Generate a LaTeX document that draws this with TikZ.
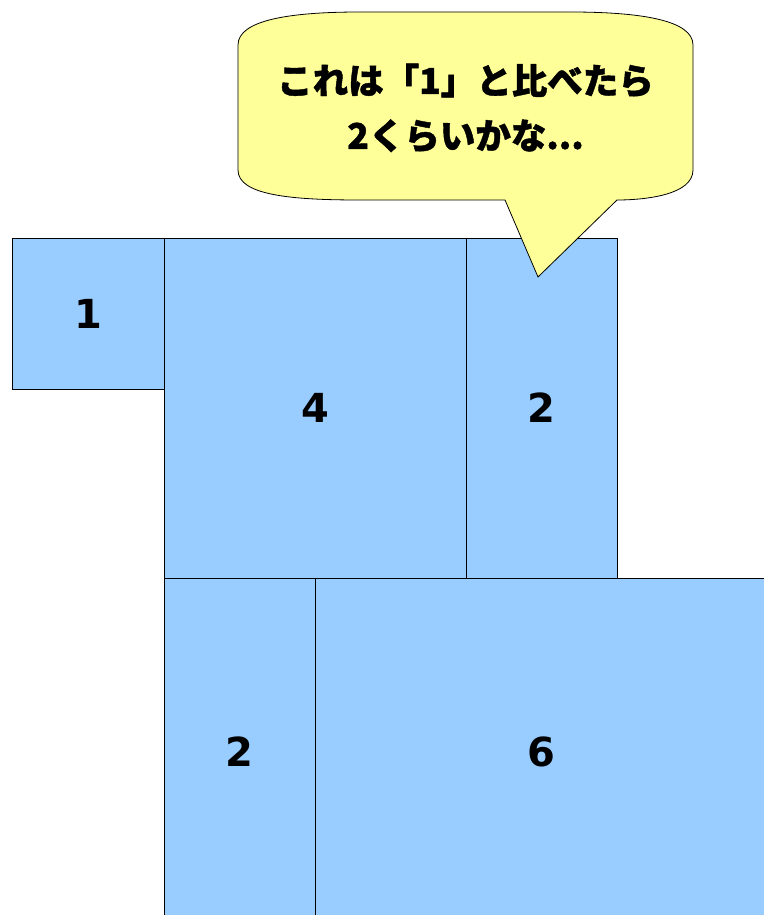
\documentclass[tikz,border=0pt]{standalone}
\usepackage{fontspec}
\setmainfont{DejaVu Sans}
\newfontfamily\jpfont{Noto Sans CJK JP}[BoldFeatures={FakeBold=1.2}]
\usepackage{xcolor}
\usetikzlibrary{positioning}
\definecolor{cellblue}{HTML}{99CCFF}
\definecolor{bubbleyellow}{HTML}{FFFF99}

\begin{document}
\begin{tikzpicture}[
  x=1pt,y=-1pt,
  cell/.style={draw,line width=0.8pt,fill=cellblue,inner sep=0pt,outer sep=0pt,
    font=\fontsize{40}{40}\selectfont\bfseries},
  bubble/.style={draw,line width=0.8pt,fill=bubbleyellow},
  remark/.style={align=center,font=\jpfont\fontsize{35.5}{55}\selectfont\bfseries}
]
  \useasboundingbox (0,0) rectangle (763,915);
  \node[cell,minimum width=152pt,minimum height=151pt] (one) at (88,313.5) {1};
  \node[cell,minimum width=302pt,minimum height=340pt] (four) at (315,408) {4};
  \node[cell,minimum width=151pt,minimum height=340pt] (twotop) at (541.5,408) {2};
  \node[cell,minimum width=151pt,minimum height=348pt] (twobot) at (239.5,752) {2};
  \node[cell,minimum width=452pt,minimum height=348pt] (six) at (541,752) {6};
  % speech bubble
  \draw[bubble] (238,45) .. controls (238,20) and (290,12) .. (360,12) -- (570,12)
    .. controls (640,12) and (693,20) .. (693,45) -- (693,170)
    .. controls (693,195) and (645,200) .. (617,200) -- (538,277) -- (505,200) -- (360,200)
    .. controls (290,200) and (238,195) .. (238,170) -- cycle;
  \node[remark] (talk) at (465.5,108) {これは「1」と比べたら\\2くらいかな...};
\end{tikzpicture}
\end{document}
